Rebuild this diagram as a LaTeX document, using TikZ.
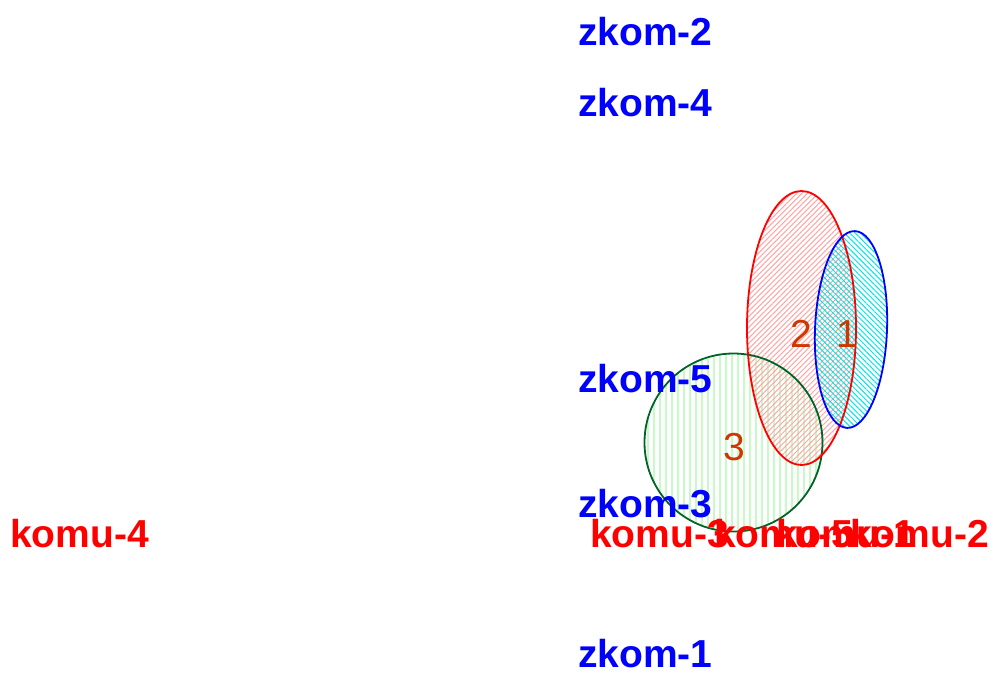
\documentclass[tikz,border=0pt]{standalone}
\usepackage{fontspec}
\setmainfont{Liberation Sans}
\usetikzlibrary{patterns.meta}
\definecolor{numcol}{RGB}{205,55,0}
\definecolor{greenline}{RGB}{0,100,40}
\definecolor{greenhatch}{RGB}{200,250,200}
\definecolor{redhatch}{RGB}{255,165,165}
\definecolor{cyanhatch}{RGB}{0,230,230}
\tikzset{
  zlab/.style={anchor=base west, inner sep=0pt, text=blue, font=\fontsize{39}{39}\selectfont\bfseries},
  klab/.style={anchor=base west, inner sep=0pt, text=red, font=\fontsize{39}{39}\selectfont\bfseries},
  num/.style={anchor=base, inner sep=0pt, text=numcol, font=\fontsize{39}{39}\selectfont},
  setline/.style={line width=1.8pt}
}
\begin{document}
\begin{tikzpicture}[x=1pt,y=-1pt]
\useasboundingbox (0,0) rectangle (990,673);
% fills
\fill[pattern={Lines[angle=90,distance=6pt,line width=2pt]}, pattern color=greenhatch] (733.5,442.5) circle (89);
\fill[pattern={Lines[angle=45,distance=3.8pt,line width=1pt]}, pattern color=redhatch] (801.5,328) ellipse (54.5 and 137);
\fill[pattern={Lines[angle=-45,distance=3.8pt,line width=1pt]}, pattern color=cyanhatch, shift={(851,329.5)}, rotate=-2.3] (0,0) ellipse (36 and 98.5);
% borders
\draw[setline, greenline] (733.5,442.5) circle (89);
\draw[setline, red] (801.5,328) ellipse (54.5 and 137);
\draw[setline, blue, shift={(851,329.5)}, rotate=-2.3] (0,0) ellipse (36 and 98.5);
% numbers
\node[num] (n1) at (847,347) {1};
\node[num] (n2) at (801,347) {2};
\node[num] (n3) at (734,460) {3};
% labels
\node[zlab] (z2) at (578,45) {zkom-2};
\node[zlab] (z4) at (578,116) {zkom-4};
\node[zlab] (z5) at (578,392) {zkom-5};
\node[zlab] (z3) at (578,517) {zkom-3};
\node[zlab] (z1) at (578,667) {zkom-1};
\node[klab] (k4) at (10,547) {komu-4};
\node[klab] (k3) at (590,547) {komu-3};
\node[klab] (k5) at (714,547) {komu-5};
\node[klab] (k1) at (776,547) {komu-1};
\node[klab] (k2) at (850,547) {komu-2};
\end{tikzpicture}
\end{document}
